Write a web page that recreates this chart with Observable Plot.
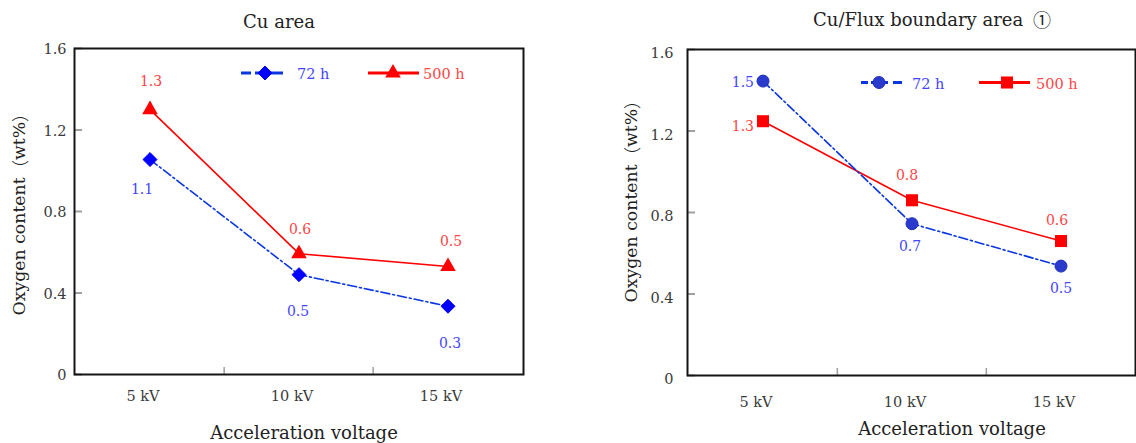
<!DOCTYPE html>
<html><head><meta charset="utf-8">
<script src="https://cdn.jsdelivr.net/npm/d3@7"></script>
<script src="https://cdn.jsdelivr.net/npm/@observablehq/plot@0.6"></script>
<style>
body{margin:0;background:#fff;}
#wrap{position:relative;width:1136px;height:443px;overflow:hidden;background:#fff;}
.panel{position:absolute;top:0;}
</style></head><body><div id="wrap"></div>
<script>
// ---- data ----
const voltages = ["5 kV", "10 kV", "15 kV"];
const yTicks = [0, 0.4, 0.8, 1.2, 1.6];
const yTickLabels = ["0", "0.4", "0.8", "1.2", "1.6"];
const seriesNames = ["72 h", "500 h"];
const panelTitles = ["Cu area", "Cu/Flux boundary area "];
const panelTitleMarks = ["", "\u2460"];
const xTitle = "Acceleration voltage";
const yTitleParts = ["Oxygen content", "\uff08", "wt%", "\uff09"];

const cuArea72 = [1.055, 0.49, 0.335];
const cuArea500 = [1.30, 0.593, 0.53];
const cuArea72Labels = ["1.1", "0.5", "0.3"];
const cuArea500Labels = ["1.3", "0.6", "0.5"];

const boundary72 = [1.445, 0.745, 0.537];
const boundary500 = [1.248, 0.86, 0.66];
const boundary72Labels = ["1.5", "0.7", "0.5"];
const boundary500Labels = ["1.3", "0.8", "0.6"];

const FONT = "DejaVu Serif";
const CJK = "Noto Sans CJK JP";
const W = 568, H = 443;

function panel(cfg) {
  const fw = W - cfg.ml - cfg.mr, fh = H - cfg.mt - cfg.mb;
  const bw = fw / voltages.length;
  const rows72 = voltages.map((v, i) => ({v, val: cfg.s72[i], label: cfg.l72[i]}));
  const rows500 = voltages.map((v, i) => ({v, val: cfg.s500[i], label: cfg.l500[i]}));
  const labelMarks = [];
  rows72.forEach((d, i) => {
    const o = cfg.off72[i];
    labelMarks.push(Plot.text([d], {x: "v", y: "val", text: "label", dx: o[0], dy: o[1],
      textAnchor: o[2] || "middle", fill: cfg.lab72, fontSize: 14}));
  });
  rows500.forEach((d, i) => {
    const o = cfg.off500[i];
    labelMarks.push(Plot.text([d], {x: "v", y: "val", text: "label", dx: o[0], dy: o[1],
      textAnchor: o[2] || "middle", fill: cfg.lab500, fontSize: 14}));
  });
  const svg = Plot.plot({
    width: W, height: H,
    marginLeft: cfg.ml, marginRight: cfg.mr, marginTop: cfg.mt, marginBottom: cfg.mb,
    x: {type: "band", domain: voltages, padding: 0},
    y: {domain: [0, 1.6]},
    style: {fontFamily: FONT, fontSize: "14px", background: "white", overflow: "visible"},
    marks: [
      Plot.tickY(yTicks, {y: d => d, insetRight: fw - 8, stroke: "#a0a0a0", strokeWidth: 2}),
      Plot.tickX(voltages.slice(1), {x: d => d, dx: -bw / 2, insetTop: fh - 7, stroke: "#a0a0a0", strokeWidth: 1.5}),
      Plot.frame({stroke: "#151515", strokeWidth: 2}),
      Plot.axisY(yTicks, {tickSize: 0, tickPadding: cfg.ytp, dy: cfg.ydy, fill: "#3a3a3a", fontSize: 14.5,
        tickFormat: d => yTickLabels[yTicks.indexOf(d)], label: null}),
      Plot.axisX({tickSize: 0, tickPadding: cfg.xtp, dx: -7, fill: "#3a3a3a", fontSize: 14.5, label: null}),
      Plot.line(rows500, {x: "v", y: "val", stroke: cfg.c500, strokeWidth: 1.6}),
      Plot.line(rows72, {x: "v", y: "val", stroke: cfg.line72, strokeWidth: 1.6, strokeDasharray: "9,3,2,3"}),
      Plot.dot(rows500, {x: "v", y: "val", symbol: cfg.sym500, r: cfg.r500, fill: cfg.c500, stroke: "none"}),
      Plot.dot(rows72, {x: "v", y: "val", symbol: cfg.sym72, r: cfg.r72, fill: cfg.c72, stroke: cfg.c72stroke, strokeWidth: 1}),
      ...labelMarks
    ]
  });
  const s = d3.select(svg);
  const t = s.append("text").attr("x", cfg.title[0]).attr("y", cfg.title[1]).attr("text-anchor", "middle")
    .attr("dominant-baseline", "central").attr("font-size", 18).attr("fill", "#222")
    .attr("font-family", FONT);
  t.append("tspan").text(cfg.titleText);
  if (cfg.titleMark) t.append("tspan").attr("font-family", CJK).attr("dx", 4).text(cfg.titleMark);
  s.append("text").attr("x", cfg.xt[0]).attr("y", cfg.xt[1]).attr("text-anchor", "middle")
    .attr("dominant-baseline", "central").attr("font-size", 18).attr("fill", "#222")
    .attr("font-family", FONT).text(xTitle);
  const yt = s.append("text").attr("transform", `translate(${cfg.yt[0]},${cfg.yt[1]}) rotate(-90)`).attr("text-anchor", "middle")
    .attr("dominant-baseline", "central").attr("font-size", 17.3).attr("fill", "#222")
    .attr("font-family", FONT);
  yTitleParts.forEach((p, i) => {
    const sp = yt.append("tspan").text(p);
    if (i === 1 || i === 3) sp.attr("font-family", CJK).attr("font-weight", 300);
  });
  // legend
  const L = cfg.legend;
  const g = s.append("g").attr("text-anchor", "start");
  g.append("line").attr("x1", L.b[0]).attr("x2", L.b[1]).attr("y1", L.y).attr("y2", L.y)
    .attr("stroke", cfg.line72).attr("stroke-width", 3).attr("stroke-dasharray", L.bDash);
  const sym = (name) => d3.symbol(name === "diamond2" ? d3.symbolDiamond2 : name === "circle" ? d3.symbolCircle
    : name === "triangle" ? d3.symbolTriangle : d3.symbolSquare);
  g.append("path").attr("transform", `translate(${L.bm},${L.y})`)
    .attr("d", sym(cfg.sym72).size(Math.PI * cfg.r72 * cfg.r72)()).attr("fill", cfg.c72).attr("stroke", cfg.c72stroke);
  g.append("text").attr("x", L.bt).attr("y", L.y + 1).attr("dominant-baseline", "central").attr("font-size", 14.5)
    .attr("fill", cfg.lab72).attr("font-family", FONT).attr("text-anchor", "start").text(seriesNames[0]);
  g.append("line").attr("x1", L.r[0]).attr("x2", L.r[1]).attr("y1", L.y).attr("y2", L.y)
    .attr("stroke", cfg.c500).attr("stroke-width", 3);
  g.append("path").attr("transform", `translate(${L.rm},${L.y})`)
    .attr("d", sym(cfg.sym500).size(Math.PI * cfg.r500 * cfg.r500)()).attr("fill", cfg.c500);
  g.append("text").attr("x", L.rt).attr("y", L.y + 1).attr("dominant-baseline", "central").attr("font-size", 14.5)
    .attr("fill", cfg.lab500).attr("font-family", FONT).attr("text-anchor", "start").text(seriesNames[1]);

  const div = document.createElement("div");
  div.className = "panel";
  div.style.left = cfg.left + "px";
  div.appendChild(svg);
  document.getElementById("wrap").appendChild(div);
}

panel({
  left: 0, ml: 74, mr: 45, mt: 48, mb: 69,
  s72: cuArea72, s500: cuArea500, l72: cuArea72Labels, l500: cuArea500Labels,
  sym72: "diamond2", sym500: "triangle", r72: 6.3, r500: 5.8,
  c72: "#0000ff", c72stroke: "#0000ff", line72: "#0a36e0", c500: "#ff0000",
  lab72: "#4545ff", lab500: "#ff4545",
  off72: [[-8, 30], [-1, 37], [2, 37]], off500: [[1, -28], [1, -24], [3, -25]],
  ytp: 8, ydy: 1, xtp: 16,
  title: [279, 21], titleText: panelTitles[0], titleMark: panelTitleMarks[0],
  xt: [304, 432], yt: [19, 210],
  legend: {y: 73, b: [241, 283], bDash: "10,4,40", bm: 265, bt: 297, r: [368, 419], rm: 393, rt: 423}
});

panel({
  left: 568, ml: 119, mr: 1, mt: 49, mb: 68,
  s72: boundary72, s500: boundary500, l72: boundary72Labels, l500: boundary500Labels,
  sym72: "circle", sym500: "square", r72: 6, r500: 6.8,
  c72: "#2a3acc", c72stroke: "#1e2fb8", line72: "#0a36e0", c500: "#ff0000",
  lab72: "#4545ff", lab500: "#ff4545",
  off72: [[-9, 1, "end"], [-2, 23], [0, 22]], off500: [[-9, 5, "end"], [-5, -25], [-4, -21]],
  ytp: 14, ydy: 4, xtp: 21,
  title: [364, 19], titleText: panelTitles[1], titleMark: panelTitleMarks[1],
  xt: [384, 428], yt: [63, 197],
  legend: {y: 82.5, b: [293, 334], bDash: "7,3,17,5,9", bm: 311, bt: 344, r: [411, 462], rm: 439, rt: 468}
});
</script></body></html>
